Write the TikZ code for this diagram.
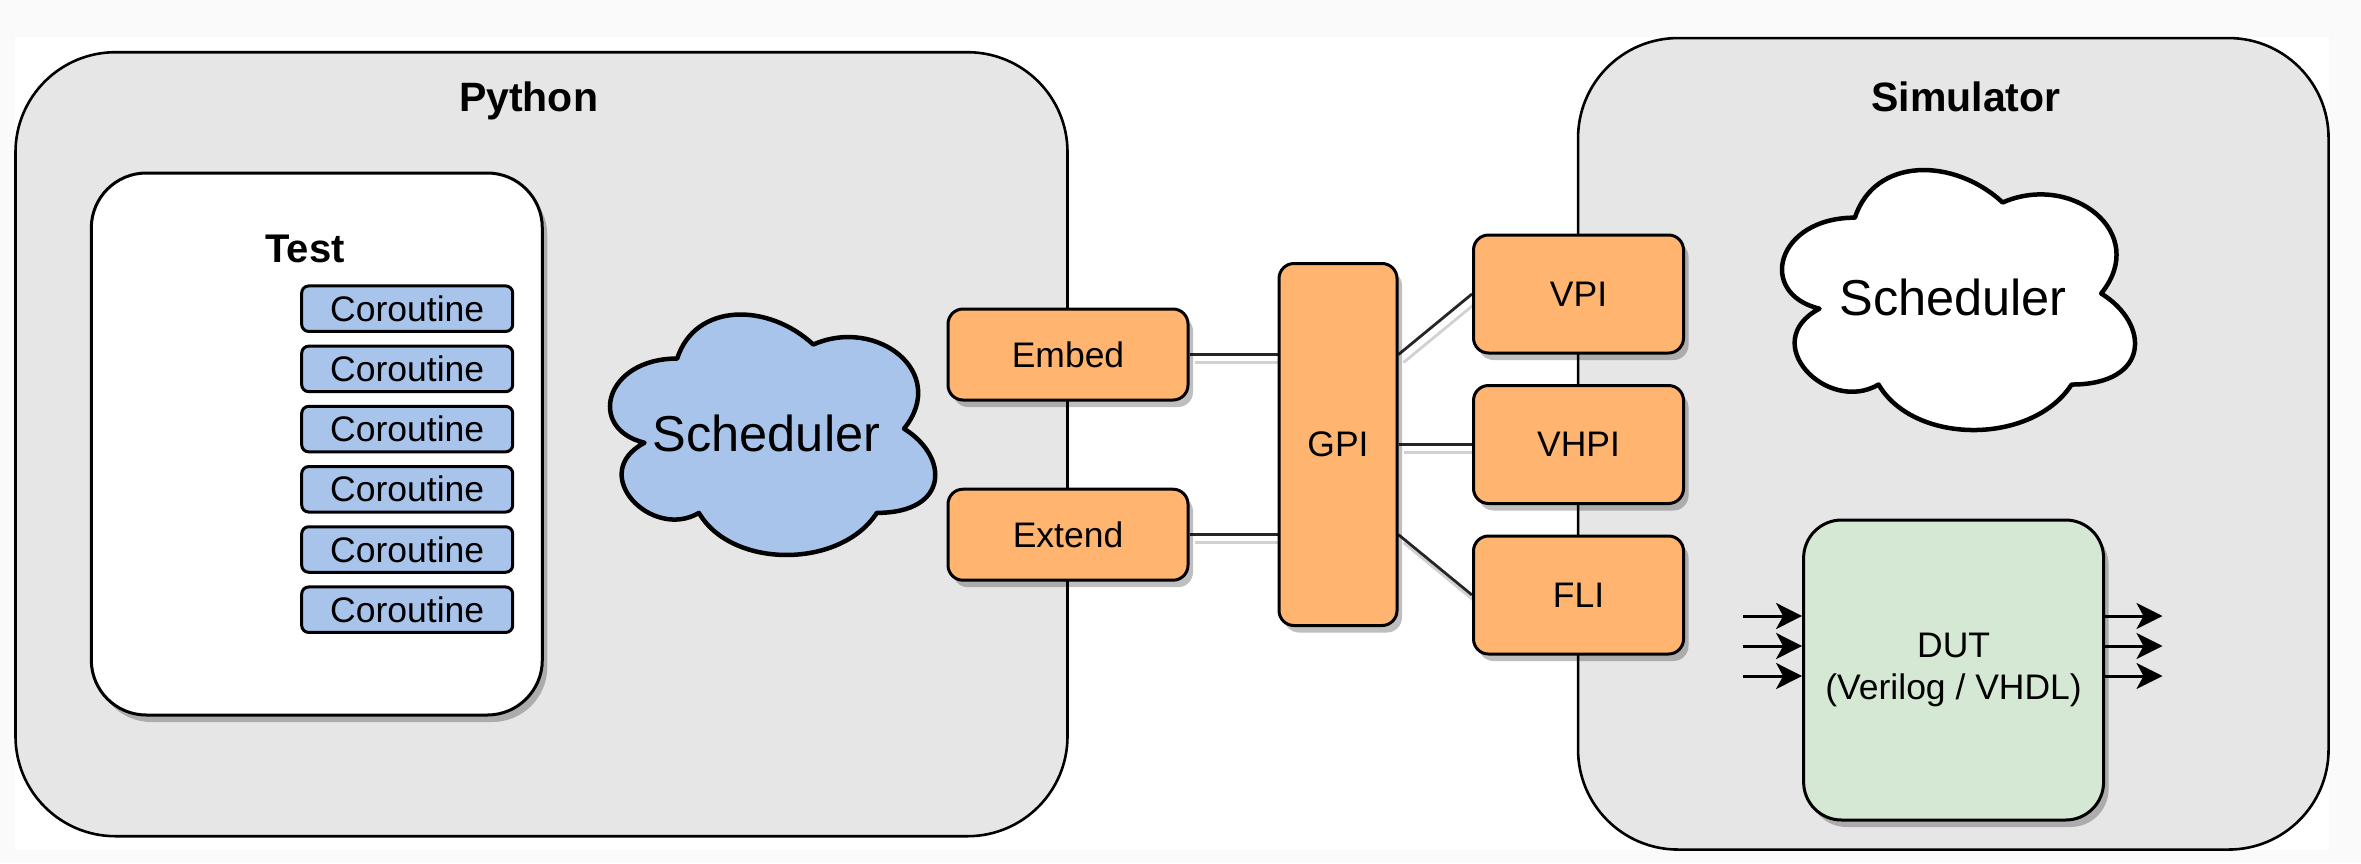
\documentclass[tikz,border=0pt]{standalone}
\usepackage{fontspec}
\setmainfont{Liberation Sans}
\usetikzlibrary{arrows.meta,shadows}

\definecolor{pagegray}{HTML}{FAFAFA}
\definecolor{contgray}{HTML}{E6E6E6}
\definecolor{ifaceorange}{HTML}{FFB570}
\definecolor{pyblue}{HTML}{A9C4EB}
\definecolor{dutgreen}{HTML}{D5E8D4}

\pgfdeclarelayer{containers}
\pgfdeclarelayer{links}
\pgfsetlayers{containers,links,main}

\newcommand\lblfont{\fontsize{35.5}{42.6}\selectfont}
\newcommand\ttlfont{\fontsize{41}{49}\selectfont\bfseries}
\newcommand\tstfont{\fontsize{40}{48}\selectfont\bfseries}
\newcommand\cldfont{\fontsize{50.5}{60}\selectfont}

% cloud outline: #1 style, #2/#3 top-left corner, #4/#5 width/height
\newcommand\cloudoutline[5]{%
  \begin{scope}[shift={(#2,#3)}, x=#4pt, y=-#5pt]
    \path[#1] (0.25,0.25) .. controls (0.05,0.25) and (0,0.5) .. (0.16,0.55)
      .. controls (0,0.66) and (0.18,0.9) .. (0.31,0.8)
      .. controls (0.4,1) and (0.7,1) .. (0.8,0.8)
      .. controls (1,0.8) and (1,0.6) .. (0.875,0.5)
      .. controls (1,0.3) and (0.8,0.1) .. (0.625,0.2)
      .. controls (0.5,0.05) and (0.3,0.05) .. (0.25,0.25) -- cycle;
  \end{scope}}

\begin{document}
\begin{tikzpicture}[x=1pt, y=-1pt,
  box/.style={draw=black, line width=3pt, rounded corners=15pt, inner sep=0pt, font=\lblfont},
  shade/.style={drop shadow={shadow xshift=5pt, shadow yshift=-7pt, fill=black, opacity=0.25}},
  iface/.style={box, fill=ifaceorange, shade},
  coro/.style={box, fill=pyblue, rounded corners=7pt, minimum width=211pt, minimum height=45.5pt},
  container/.style={draw=black, line width=2.6pt, fill=contgray, rounded corners=100pt, inner sep=0pt},
  edge/.style={draw=black!85, line width=2.8pt},
  edgeshadow/.style={draw=black!18, line width=2.8pt},
  sig/.style={line width=3pt, -{Stealth[length=26pt, width=26pt, inset=7pt]}},
  cloudline/.style={draw=black, line width=4.5pt, line join=round},
  title/.style={anchor=base, inner sep=0pt}]

\useasboundingbox (0,0) rectangle (2361,863);

\begin{pgfonlayer}{containers}
  \fill[pagegray] (0,0) rectangle (2361,863);
  \fill[white] (15,37) rectangle (2329,850);
  \node[container, minimum width=1052pt, minimum height=784pt] (python) at (541.5,444.2) {};
  \node[container, minimum width=750.5pt, minimum height=811.5pt] (simulator) at (1953.3,443.8) {};
\end{pgfonlayer}

% titles
\node[title, font=\ttlfont] (pytitle) at (528.6,111.5) {Python};
\node[title, font=\ttlfont] (simtitle) at (1966,111.5) {Simulator};

% test with its coroutines
\node[box, fill=white, shade, rounded corners=55pt, minimum width=451pt, minimum height=542pt] (test) at (316.8,444) {};
\node[title, font=\tstfont] (testlabel) at (305,262) {Test};
\foreach \i in {0,...,5}
  \node[coro] (coro\i) at (407.2,{308.7+60.2*\i}) {Coroutine};

% schedulers
\cloudoutline{cloudline, fill=pyblue}{586.4}{288.4}{363}{280.6}
\node[font=\cldfont, inner sep=0pt] (pysched) at (766.5,433) {Scheduler};
\cloudoutline{cloudline, fill=white}{1756.4}{141.8}{394}{303.4}
\node[font=\cldfont, inner sep=0pt] (simsched) at (1953,297) {Scheduler};

% interface blocks
\node[iface, minimum width=240pt, minimum height=91pt] (embed) at (1068,354.5) {Embed};
\node[iface, minimum width=240pt, minimum height=91pt] (extend) at (1068,534.7) {Extend};
\node[iface, minimum width=118pt, minimum height=362pt] (gpi) at (1338,444.5) {GPI};
\node[iface, minimum width=210pt, minimum height=118pt] (vpi) at (1578.5,294) {VPI};
\node[iface, minimum width=210pt, minimum height=118pt] (vhpi) at (1578.5,444.5) {VHPI};
\node[iface, minimum width=210pt, minimum height=118pt] (fli) at (1578.5,595) {FLI};

% links between the blocks
\begin{pgfonlayer}{links}
  \begin{scope}[transform canvas={shift={(5,8)}}]
    \draw[edgeshadow] (embed.east) -- (embed.east -| gpi.west);
    \draw[edgeshadow] (extend.east) -- (extend.east -| gpi.west);
    \draw[edgeshadow] (gpi.east |- embed.east) -- (vpi.west);
    \draw[edgeshadow] (gpi.east |- vhpi.west) -- (vhpi.west);
    \draw[edgeshadow] (gpi.east |- extend.east) -- (fli.west);
  \end{scope}
  \draw[edge] (embed.east) -- (embed.east -| gpi.west);
  \draw[edge] (extend.east) -- (extend.east -| gpi.west);
  \draw[edge] (gpi.east |- embed.east) -- (vpi.west);
  \draw[edge] (gpi.east |- vhpi.west) -- (vhpi.west);
  \draw[edge] (gpi.east |- extend.east) -- (fli.west);
\end{pgfonlayer}

% design under test with its ports
\node[box, fill=dutgreen, shade, rounded corners=38pt, minimum width=300pt, minimum height=300pt, align=center] (dut) at (1953.6,670) {DUT\\(Verilog / VHDL)};
\foreach \k/\yy in {1/616,2/646,3/676} {
  \coordinate (in\k) at (1743,\yy);
  \coordinate (out\k) at (2162.5,\yy);
  \draw[sig] (in\k) -- (in\k -| dut.west);
  \draw[sig] (out\k -| dut.east) -- (out\k);
}
\end{tikzpicture}
\end{document}
